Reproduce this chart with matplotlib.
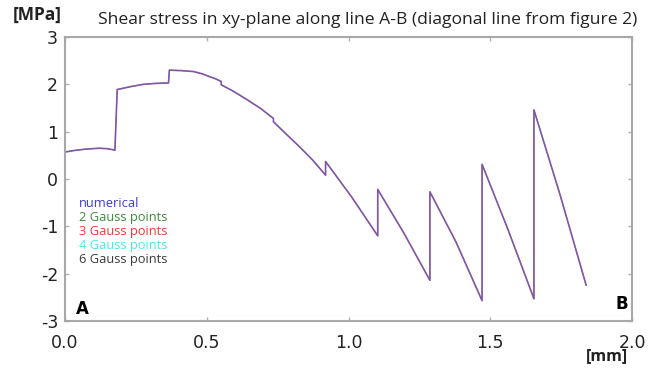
import matplotlib
matplotlib.use("Agg")
import matplotlib.pyplot as plt

# shear stress tau_xy along line A-B, one row per element (repeated x = jump between elements)
x_mm = [0.0, 0.03, 0.07, 0.12, 0.15, 0.176,
        0.184, 0.23, 0.276, 0.32, 0.365,
        0.368, 0.41, 0.453, 0.485, 0.511, 0.53, 0.551,
        0.551, 0.595, 0.641, 0.69, 0.735,
        0.735, 0.78, 0.829, 0.875, 0.919,
        0.919, 1.011, 1.103,
        1.103, 1.195, 1.287,
        1.287, 1.379, 1.471,
        1.471, 1.562, 1.654,
        1.654, 1.746, 1.838]
tau_num = [0.57, 0.60, 0.63, 0.65, 0.64, 0.61,
           1.89, 1.95, 2.00, 2.02, 2.03,
           2.30, 2.29, 2.27, 2.22, 2.16, 2.12, 2.06,
           1.99, 1.85, 1.68, 1.49, 1.28,
           1.21, 0.95, 0.67, 0.39, 0.08,
           0.37, -0.38, -1.20,
           -0.22, -1.14, -2.14,
           -0.27, -1.33, -2.57,
           0.31, -1.06, -2.53,
           1.46, -0.33, -2.24]

# FE results with 2/3/4/6 Gauss points coincide with the numerical curve at this scale
labels = ["numerical", "2 Gauss points", "3 Gauss points", "4 Gauss points", "6 Gauss points"]
colors = ["#3a3ad8", "#3c8c3c", "#e83a3a", "#4fe6e6", "#3a3a3a"]

fig = plt.figure(figsize=(6.57, 3.70), dpi=100)
ax = fig.add_axes([0.099, 0.1324, 0.863, 0.7676])

# black/cyan/green underneath, then blue and a translucent red on top -> violet look
for i in [4, 3, 1]:
    ax.plot(x_mm, tau_num, color=colors[i], lw=0.6, alpha=0.3)
ax.plot(x_mm, tau_num, color=colors[0], lw=1.2, alpha=0.7)
ax.plot(x_mm, tau_num, color=colors[2], lw=1.0, alpha=0.35)

ax.set_xlim(0, 2.0)
ax.set_ylim(-3, 3)
ax.set_xticks([0.0, 0.5, 1.0, 1.5, 2.0])
ax.set_xticklabels(["0.0", "0.5", "1.0", "1.5", "2.0"])
ax.set_yticks([-3, -2, -1, 0, 1, 2, 3])
ax.set_yticklabels(["-3", "-2", "-1", "0", "1", "2", "3"])
ax.tick_params(direction="in", length=3, width=1, color="#b0b0b0",
               top=True, right=True, labelsize=12.5, labelcolor="#222222")
ax.tick_params(axis="x", pad=9)
ax.tick_params(axis="y", pad=5)
for s in ax.spines.values():
    s.set_color("#a8a8a8")
    s.set_linewidth(1.5)

# legend as coloured text lines
for i, lab in enumerate(labels):
    ax.text(0.025, 0.412 - i * 0.049, lab, transform=ax.transAxes, color=colors[i],
            fontsize=9.3, fontfamily="Open Sans", va="center", ha="left")

ax.text(0.02, 0.042, "A", transform=ax.transAxes, fontsize=12, fontweight="bold", va="center")
ax.text(0.993, 0.06, "B", transform=ax.transAxes, fontsize=12, fontweight="bold",
        va="center", ha="right")

fig.text(98 / 657, 1 - 20 / 370, "Shear stress in xy-plane along line A-B (diagonal line from figure 2)",
         fontsize=12.6, fontfamily="Open Sans", va="center", ha="left", color="#222222")
fig.text(13 / 657, 1 - 15 / 370, "[MPa]", fontsize=12.5, fontfamily="Open Sans",
         fontweight="bold", va="center", ha="left", color="#222222")
fig.text(628 / 657, 1 - 356 / 370, "[mm]", fontsize=11.5, fontfamily="Open Sans",
         fontweight="bold", va="center", ha="right", color="#222222")

fig.savefig("out.png", dpi=100)
